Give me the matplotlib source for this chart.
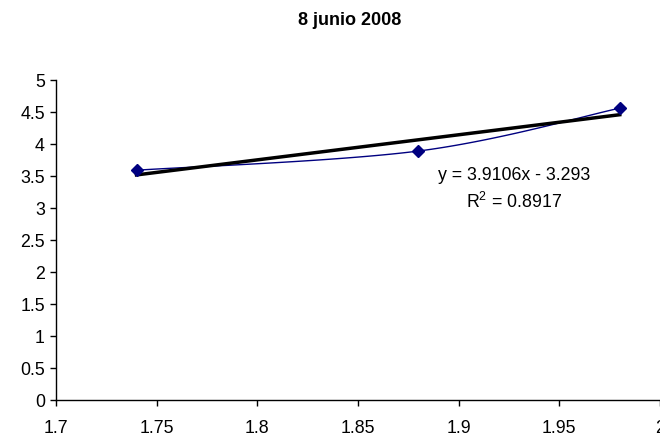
import numpy as np
import matplotlib
matplotlib.use('Agg')
import matplotlib.pyplot as plt

plt.rcParams['font.family'] = ['Liberation Sans', 'DejaVu Sans']
plt.rcParams['mathtext.fontset'] = 'custom'
plt.rcParams['mathtext.rm'] = 'Liberation Sans'

# data
x_vals = [1.74, 1.88, 1.98]
y_vals = [3.59, 3.89, 4.56]
title = '8 junio 2008'
eq_line = 'y = 3.9106x - 3.293'
r2_line = 'R$^2$ = 0.8917'


def smooth_curve(xs, ys, n=40):
    # Excel-like smoothed line: cubic Bezier segments through the points
    xs = np.asarray(xs, float)
    ys = np.asarray(ys, float)
    px, py = [], []
    k = len(xs)
    t = np.linspace(0, 1, n)
    for i in range(k - 1):
        x0, y0 = xs[max(i - 1, 0)], ys[max(i - 1, 0)]
        x1, y1 = xs[i], ys[i]
        x2, y2 = xs[i + 1], ys[i + 1]
        x3, y3 = xs[min(i + 2, k - 1)], ys[min(i + 2, k - 1)]
        c1x, c1y = x1 + (x2 - x0) / 6, y1 + (y2 - y0) / 6
        c2x, c2y = x2 - (x3 - x1) / 6, y2 - (y3 - y1) / 6
        bx = (1 - t) ** 3 * x1 + 3 * (1 - t) ** 2 * t * c1x + 3 * (1 - t) * t ** 2 * c2x + t ** 3 * x2
        by = (1 - t) ** 3 * y1 + 3 * (1 - t) ** 2 * t * c1y + 3 * (1 - t) * t ** 2 * c2y + t ** 3 * y2
        px.extend(bx)
        py.extend(by)
    return px, py


fig = plt.figure(figsize=(6.6, 4.39), dpi=100)
ax = fig.add_axes([0.0848, 0.0866, 0.9152, 0.7289])

sx, sy = smooth_curve(x_vals, y_vals)
ax.plot(sx, sy, color='#000080', linewidth=1.0, zorder=2)

slope, intercept = np.polyfit(x_vals, y_vals, 1)
tx = np.array([min(x_vals), max(x_vals)])
ax.plot(tx, slope * tx + intercept, color='black', linewidth=2.5, zorder=3)

ax.plot(x_vals, y_vals, linestyle='none', marker='D', markersize=6.5,
        color='#000080', zorder=4)

ax.text(1.9275, 3.52, eq_line, ha='center', va='center', fontsize=12.8)
ax.text(1.9275, 3.11, r2_line, ha='center', va='center', fontsize=12.8)

ax.set_xlim(1.7, 2.0)
ax.set_ylim(0, 5)
ax.set_xticks(np.arange(1.7, 2.001, 0.05))
ax.set_xticklabels(['1.7', '1.75', '1.8', '1.85', '1.9', '1.95', '2'])
ax.set_yticks(np.arange(0, 5.01, 0.5))
ax.set_yticklabels(['0', '0.5', '1', '1.5', '2', '2.5', '3', '3.5', '4', '4.5', '5'])
ax.tick_params(direction='out', length=4, width=1, labelsize=12.8)
ax.tick_params(axis='x', pad=9.5)
ax.tick_params(axis='y', pad=4)
ax.spines['top'].set_visible(False)
ax.spines['right'].set_visible(False)
ax.spines['left'].set_linewidth(1)
ax.spines['bottom'].set_linewidth(1)

fig.text(0.53, 0.953, title, ha='center', va='center', fontsize=13, fontweight='bold')

fig.savefig('out.png', dpi=100)
